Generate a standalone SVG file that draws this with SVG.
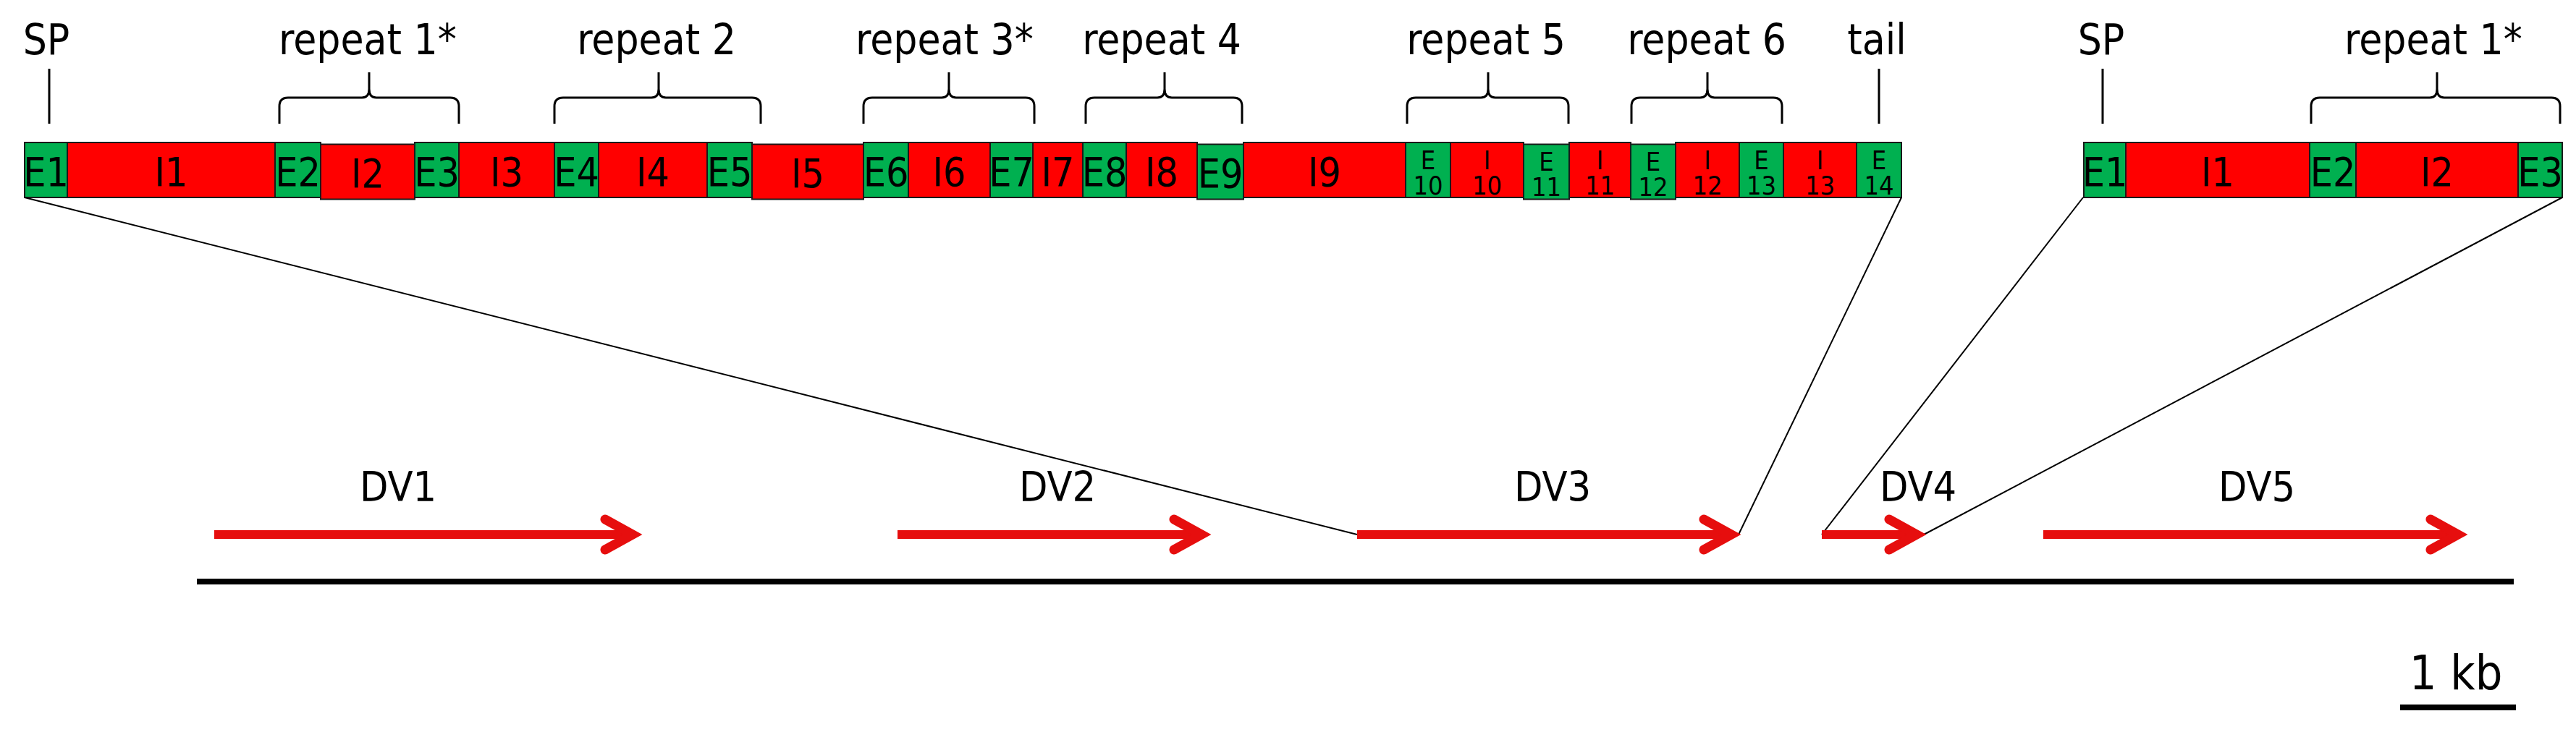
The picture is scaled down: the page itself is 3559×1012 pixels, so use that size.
<svg xmlns="http://www.w3.org/2000/svg" width="3559" height="1012" viewBox="0 0 3559 1012">
<style>
text{font-family:'DejaVu Sans Condensed','DejaVu Sans',sans-serif;font-stretch:condensed;fill:#000;text-anchor:middle}
.top{font-size:58px}
.box{font-size:55px}
.sm{font-size:36px}
.dv{font-size:57px}
.ex{fill:#00B050;stroke:#1a1a1a;stroke-width:2}
.in{fill:#FF0000;stroke:#1a1a1a;stroke-width:2}
.brk{fill:none;stroke:#000;stroke-width:3}
.con{fill:none;stroke:#000;stroke-width:2}
.body{stroke:#E60E0E;stroke-width:12;fill:none}
.head{stroke:#E60E0E;stroke-width:13;fill:none;stroke-linecap:round;stroke-linejoin:miter;stroke-miterlimit:6}
</style>
<rect width="3559" height="1012" fill="#fff"/>

<g id="labels">
<text class="top" x="64" y="75">SP</text>
<text class="top" x="508" y="75">repeat 1*</text>
<text class="top" x="907" y="75">repeat 2</text>
<text class="top" x="1305" y="75">repeat 3*</text>
<text class="top" x="1605" y="75">repeat 4</text>
<text class="top" x="2053" y="75">repeat 5</text>
<text class="top" x="2358" y="75">repeat 6</text>
<text class="top" x="2593" y="75">tail</text>
<text class="top" x="2903" y="75">SP</text>
<text class="top" x="3362" y="75">repeat 1*</text>
</g>

<g id="ticks">
<path class="brk" d="M68,95V171"/>
<path class="brk" d="M2596,95V171"/>
<path class="brk" d="M2905,95V171"/>
</g>

<g id="brackets">
<path class="brk" d="M386,171V147Q386,135 398,135H500Q510,135 510,123V100M510,123Q510,135 520,135H622Q634,135 634,147V171"/>
<path class="brk" d="M766,171V147Q766,135 778,135H900Q910,135 910,123V100M910,123Q910,135 920,135H1039Q1051,135 1051,147V171"/>
<path class="brk" d="M1193,171V147Q1193,135 1205,135H1301Q1311,135 1311,123V100M1311,123Q1311,135 1321,135H1417Q1429,135 1429,147V171"/>
<path class="brk" d="M1500,171V147Q1500,135 1512,135H1599Q1609,135 1609,123V100M1609,123Q1609,135 1619,135H1704Q1716,135 1716,147V171"/>
<path class="brk" d="M1944,171V147Q1944,135 1956,135H2046Q2056,135 2056,123V100M2056,123Q2056,135 2066,135H2155Q2167,135 2167,147V171"/>
<path class="brk" d="M2254,171V147Q2254,135 2266,135H2349Q2359,135 2359,123V100M2359,123Q2359,135 2369,135H2450Q2462,135 2462,147V171"/>
<path class="brk" d="M3193,171V147Q3193,135 3205,135H3357Q3367,135 3367,123V100M3367,123Q3367,135 3377,135H3525Q3537,135 3537,147V171"/>
</g>

<g id="gene-left">
<g id="L-E1"><rect class="ex" x="34" y="197" width="59" height="76"/><text class="box" x="63.5" y="257">E1</text></g>
<g id="L-I1"><rect class="in" x="93" y="197" width="287" height="76"/><text class="box" x="236.5" y="257">I1</text></g>
<g id="L-E2"><rect class="ex" x="380" y="197" width="63" height="76"/><text class="box" x="411.5" y="257">E2</text></g>
<g id="L-I2"><rect class="in" x="443" y="199.5" width="130" height="76"/><text class="box" x="508" y="259">I2</text></g>
<g id="L-E3"><rect class="ex" x="573" y="197" width="61" height="76"/><text class="box" x="603.5" y="257">E3</text></g>
<g id="L-I3"><rect class="in" x="634" y="197" width="132" height="76"/><text class="box" x="700" y="257">I3</text></g>
<g id="L-E4"><rect class="ex" x="766" y="197" width="61" height="76"/><text class="box" x="796.5" y="257">E4</text></g>
<g id="L-I4"><rect class="in" x="827" y="197" width="150" height="76"/><text class="box" x="902" y="257">I4</text></g>
<g id="L-E5"><rect class="ex" x="977" y="197" width="62" height="76"/><text class="box" x="1008" y="257">E5</text></g>
<g id="L-I5"><rect class="in" x="1039" y="199.5" width="154" height="76"/><text class="box" x="1116" y="259">I5</text></g>
<g id="L-E6"><rect class="ex" x="1193" y="197" width="62" height="76"/><text class="box" x="1224" y="257">E6</text></g>
<g id="L-I6"><rect class="in" x="1255" y="197" width="113" height="76"/><text class="box" x="1311.5" y="257">I6</text></g>
<g id="L-E7"><rect class="ex" x="1368" y="197" width="59" height="76"/><text class="box" x="1397.5" y="257">E7</text></g>
<g id="L-I7"><rect class="in" x="1427" y="197" width="69" height="76"/><text class="box" x="1461.5" y="257">I7</text></g>
<g id="L-E8"><rect class="ex" x="1496" y="197" width="60" height="76"/><text class="box" x="1526" y="257">E8</text></g>
<g id="L-I8"><rect class="in" x="1556" y="197" width="98" height="76"/><text class="box" x="1605" y="257">I8</text></g>
<g id="L-E9"><rect class="ex" x="1654" y="199.5" width="64" height="76"/><text class="box" x="1686" y="259">E9</text></g>
<g id="L-I9"><rect class="in" x="1718" y="197" width="224" height="76"/><text class="box" x="1830" y="257">I9</text></g>
<g id="L-E10"><rect class="ex" x="1942" y="197" width="62" height="76"/><text class="sm" x="1973" y="234">E</text><text class="sm" x="1973" y="269">10</text></g>
<g id="L-I10"><rect class="in" x="2004" y="197" width="101" height="76"/><text class="sm" x="2054.5" y="234">I</text><text class="sm" x="2054.5" y="269">10</text></g>
<g id="L-E11"><rect class="ex" x="2105" y="199.5" width="63" height="76"/><text class="sm" x="2136.5" y="236">E</text><text class="sm" x="2136.5" y="271">11</text></g>
<g id="L-I11"><rect class="in" x="2168" y="197" width="85" height="76"/><text class="sm" x="2210.5" y="234">I</text><text class="sm" x="2210.5" y="269">11</text></g>
<g id="L-E12"><rect class="ex" x="2253" y="199.5" width="62" height="76"/><text class="sm" x="2284" y="236">E</text><text class="sm" x="2284" y="271">12</text></g>
<g id="L-I12"><rect class="in" x="2315" y="197" width="88" height="76"/><text class="sm" x="2359" y="234">I</text><text class="sm" x="2359" y="269">12</text></g>
<g id="L-E13"><rect class="ex" x="2403" y="197" width="61" height="76"/><text class="sm" x="2433.5" y="234">E</text><text class="sm" x="2433.5" y="269">13</text></g>
<g id="L-I13"><rect class="in" x="2464" y="197" width="101" height="76"/><text class="sm" x="2514.5" y="234">I</text><text class="sm" x="2514.5" y="269">13</text></g>
<g id="L-E14"><rect class="ex" x="2565" y="197" width="62" height="76"/><text class="sm" x="2596" y="234">E</text><text class="sm" x="2596" y="269">14</text></g>
</g>

<g id="gene-right">
<g id="R-E1"><rect class="ex" x="2879" y="197" width="58" height="76"/><text class="box" x="2908" y="257">E1</text></g>
<g id="R-I1"><rect class="in" x="2937" y="197" width="254" height="76"/><text class="box" x="3064" y="257">I1</text></g>
<g id="R-E2"><rect class="ex" x="3191" y="197" width="64" height="76"/><text class="box" x="3223" y="257">E2</text></g>
<g id="R-I2"><rect class="in" x="3255" y="197" width="224" height="76"/><text class="box" x="3367" y="257">I2</text></g>
<g id="R-E3"><rect class="ex" x="3479" y="197" width="61" height="76"/><text class="box" x="3509.5" y="257">E3</text></g>
</g>

<g id="connectors">
<path class="con" d="M34,273L1875,739"/>
<path class="con" d="M2627,273L2402,739"/>
<path class="con" d="M2878,273L2517,739"/>
<path class="con" d="M3540,273L2658,739"/>
</g>

<g id="DV1"><text class="dv" x="550" y="693">DV1</text><path class="body" d="M296,739H872"/><path class="head" d="M836,718L874,739L836,760"/></g>
<g id="DV2"><text class="dv" x="1461" y="693">DV2</text><path class="body" d="M1240,739H1658"/><path class="head" d="M1622,718L1660,739L1622,760"/></g>
<g id="DV3"><text class="dv" x="2145" y="693">DV3</text><path class="body" d="M1875,739H2390"/><path class="head" d="M2354,718L2392,739L2354,760"/></g>
<g id="DV4"><text class="dv" x="2650" y="693">DV4</text><path class="body" d="M2517,739H2646"/><path class="head" d="M2610,718L2648,739L2610,760"/></g>
<g id="DV5"><text class="dv" x="3118" y="693">DV5</text><path class="body" d="M2823,739H3394"/><path class="head" d="M3358,718L3396,739L3358,760"/></g>

<g id="axis"><rect x="272" y="800" width="3201" height="8" fill="#000"/></g>
<g id="scale"><text x="3393" y="953" style="font-size:66px">1 kb</text><rect x="3316" y="974" width="160" height="8" fill="#000"/></g>
</svg>
